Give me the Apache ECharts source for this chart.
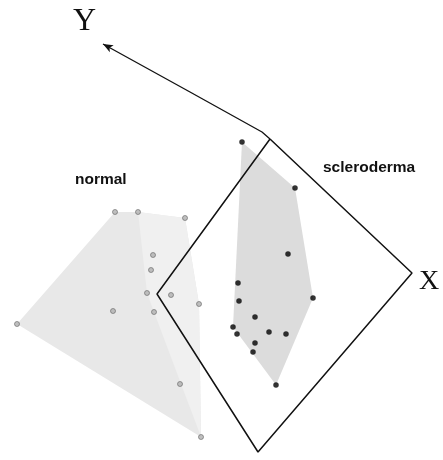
<!DOCTYPE html>
<html><head><meta charset="utf-8">
<script src="https://cdn.jsdelivr.net/npm/echarts@6/dist/echarts.min.js"></script>
<style>html,body{margin:0;padding:0;background:#fff}#c{width:443px;height:460px}</style>
</head><body><div id="c"></div>
<script>
// Projected coordinates (screen-like units, y downward)
var normalPoints = [[115,212],[138,212],[185,218],[153,255],[151,270],[147,293],[171,295],[199,304],[113,311],[154,312],[17,324],[180,384],[201,437]];
var normalHull = [[115,212],[138,212],[185,218],[199,304],[201,437],[17,324]];
var normalFacet = [[138,212],[185,218],[199,304],[201,437],[154,312],[147,293]];
var sclPoints = [[242,142],[295,188],[288,254],[313,298],[238,283],[239,301],[255,317],[233,327],[237,334],[269,332],[286,334],[255,343],[253,352],[276,385]];
var sclHull = [[242,142],[295,188],[313,298],[276,385],[233,327]];
var boxPath = [[270,139],[412,273],[258,452],[157,294],[270,139]];
var yAxisPath = [[103,44],[190,92],[262,132],[270,139]];

function polySeries(pts, fill){
  return {type:'custom', silent:true, data:[[0,0]],
    renderItem:function(params, api){
      return {type:'polygon', shape:{points:pts.map(function(p){return api.coord(p);})},
        style:{fill:fill, stroke:null}};
    }};
}
var chart = echarts.init(document.getElementById('c'));
chart.setOption({
  animation:false,
  grid:{left:0,right:0,top:0,bottom:0},
  xAxis:{type:'value',min:0,max:443,show:false},
  yAxis:{type:'value',min:0,max:460,inverse:true,show:false},
  series:[
    polySeries(normalHull,'#e8e8e8'),
    polySeries(normalFacet,'#f0f0f0'),
    polySeries(sclHull,'#dcdcdc'),
    {type:'line', data:boxPath, symbol:'none', lineStyle:{color:'#111',width:1.5}, silent:true},
    {type:'line', data:yAxisPath, showSymbol:true,
      symbol:function(v, p){ return p.dataIndex === 0 ? 'arrow' : 'none'; },
      symbolSize:[6,10], symbolRotate:61, symbolOffset:[0,0],
      itemStyle:{color:'#111'}, lineStyle:{color:'#111',width:1.3}, silent:true},
    {type:'scatter', data:normalPoints, symbolSize:5, itemStyle:{color:'#b0b0b0',borderColor:'#666',borderWidth:0.8}, silent:true},
    {type:'scatter', data:sclPoints, symbolSize:5.5, itemStyle:{color:'#000'}, silent:true}
  ],
  graphic:[
    {type:'text', left:73, top:6, style:{text:'Y', font:'32px "Liberation Serif", serif', fill:'#111'}},
    {type:'text', left:419, top:268, style:{text:'X', font:'28px "Liberation Serif", serif', fill:'#111'}},
    {type:'text', left:140, top:291, style:{text:'Z', font:'20px "Liberation Serif", serif', fill:'#111'}},
    {type:'text', left:75, top:172, style:{text:'normal', font:'bold 15.5px "Liberation Sans", Arial, sans-serif', fill:'#111'}},
    {type:'text', left:323, top:160, style:{text:'scleroderma', font:'bold 15.5px "Liberation Sans", Arial, sans-serif', fill:'#111'}}
  ]
});
</script></body></html>
